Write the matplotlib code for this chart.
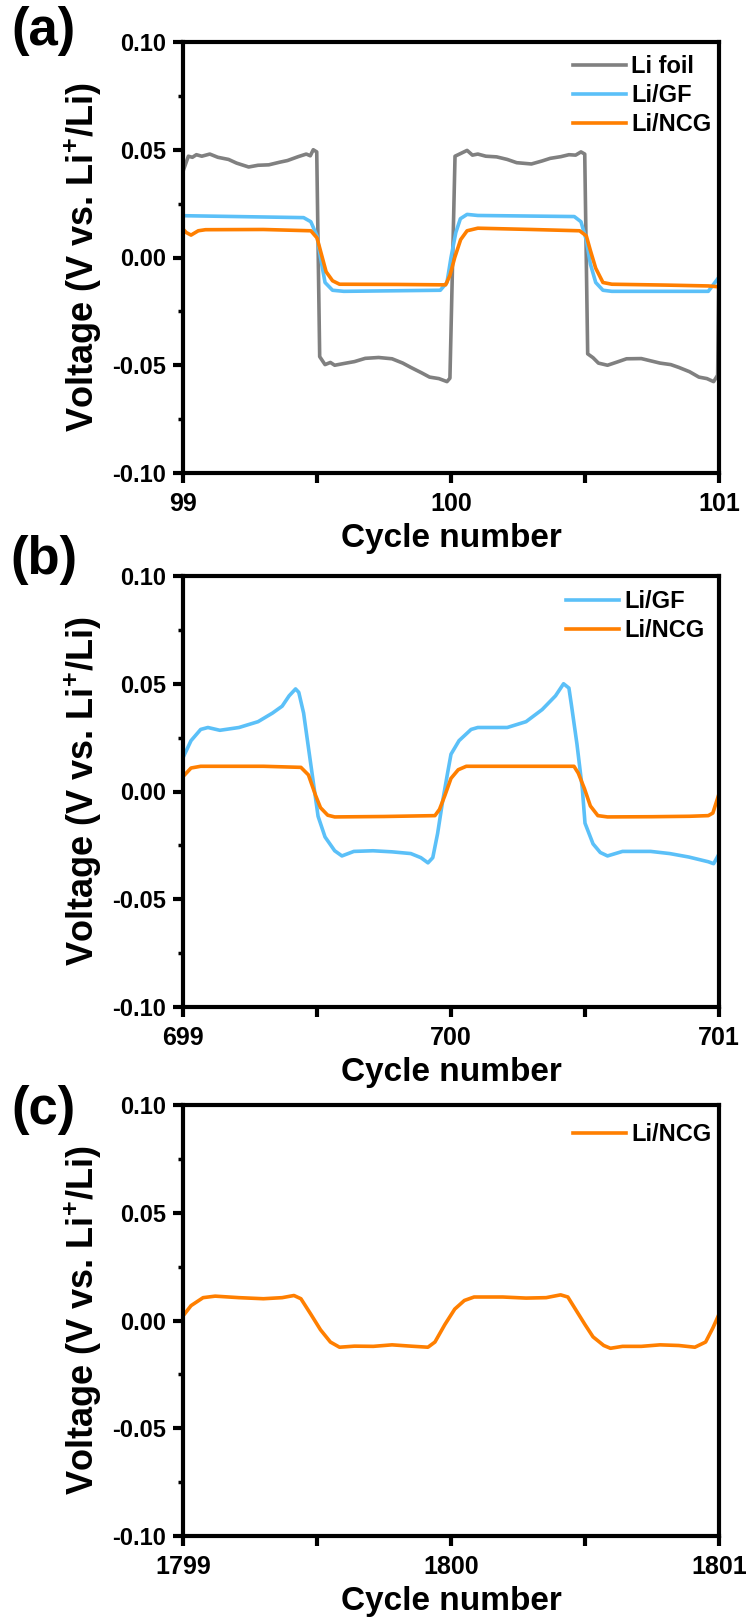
import numpy as np
import matplotlib
matplotlib.use("Agg")
import matplotlib.pyplot as plt
from matplotlib.ticker import MultipleLocator, FixedLocator

plt.rcParams['font.family'] = ['Liberation Sans', 'DejaVu Sans']
plt.rcParams['font.weight'] = 'bold'
plt.rcParams['mathtext.fontset'] = 'custom'
plt.rcParams['mathtext.bf'] = 'Liberation Sans:bold'
plt.rcParams['mathtext.rm'] = 'Liberation Sans:bold'
plt.rcParams['mathtext.default'] = 'bf'

# ---- panel (a): cycles 99-101 ----
a_foil_x = [99.0, 99.02, 99.035, 99.05, 99.07, 99.1, 99.13, 99.17, 99.2, 99.245, 99.28, 99.32,
            99.36, 99.39, 99.43, 99.46, 99.475, 99.486, 99.499,
            99.51, 99.53, 99.55, 99.566, 99.6, 99.64, 99.68, 99.73, 99.78, 99.82, 99.85,
            99.89, 99.92, 99.955, 99.985, 99.996,
            100.015, 100.04, 100.06, 100.08, 100.1, 100.13, 100.17, 100.21, 100.245, 100.3,
            100.34, 100.37, 100.41, 100.44, 100.465, 100.485, 100.499,
            100.51, 100.53, 100.55, 100.584, 100.62, 100.655, 100.71, 100.74, 100.78, 100.82,
            100.85, 100.89, 100.925, 100.955, 100.98, 100.995, 101.0]
a_foil_v = [0.040, 0.047, 0.0465, 0.0477, 0.047, 0.048, 0.0465, 0.0455, 0.0438, 0.042, 0.0428, 0.043,
            0.0442, 0.045, 0.0468, 0.048, 0.0472, 0.050, 0.049,
            -0.046, -0.0497, -0.0487, -0.050, -0.0492, -0.0483, -0.0468, -0.0464, -0.047, -0.049, -0.051,
            -0.0535, -0.0555, -0.0562, -0.0576, -0.056,
            0.047, 0.0485, 0.0497, 0.0475, 0.048, 0.047, 0.0467, 0.0455, 0.044, 0.0434,
            0.0448, 0.046, 0.0468, 0.0477, 0.0475, 0.049, 0.048,
            -0.0447, -0.0465, -0.049, -0.050, -0.0485, -0.047, -0.0469, -0.0478, -0.049, -0.0497,
            -0.051, -0.053, -0.0555, -0.0562, -0.0576, -0.0546, 0.003]

a_gf_x = [99.0, 99.2, 99.45, 99.477, 99.5, 99.513, 99.53, 99.558, 99.6, 99.96, 99.985,
          100.0, 100.018, 100.035, 100.06, 100.1, 100.46, 100.485, 100.505, 100.52, 100.54,
          100.567, 100.6, 100.96, 100.995]
a_gf_v = [0.0194, 0.019, 0.0185, 0.0166, 0.010, 0.0, -0.0116, -0.0152, -0.0157, -0.0152, -0.0116,
          0.0, 0.0116, 0.018, 0.020, 0.0195, 0.019, 0.0166, 0.008, -0.003, -0.0116,
          -0.0152, -0.0157, -0.0157, -0.0099]

a_ncg_x = [99.0, 99.012, 99.03, 99.057, 99.084, 99.3, 99.477, 99.5, 99.516, 99.534, 99.558,
           99.584, 99.8, 99.98, 99.996, 100.014, 100.036, 100.06, 100.1, 100.3, 100.48,
           100.505, 100.52, 100.54, 100.567, 100.6, 100.8, 100.96, 101.0]
a_ncg_v = [0.0132, 0.0116, 0.0104, 0.0124, 0.0129, 0.013, 0.0124, 0.0091, 0.0017, -0.0066, -0.0108,
           -0.0124, -0.0125, -0.0127, -0.0083, 0.0, 0.0083, 0.0124, 0.0136, 0.013, 0.0124,
           0.010, 0.0033, -0.005, -0.0116, -0.0124, -0.0128, -0.0132, -0.0136]

# ---- panel (b): cycles 699-701 ----
b_gf_x = [699.0, 699.03, 699.066, 699.093, 699.1375, 699.209, 699.28, 699.334, 699.37, 699.396,
          699.42, 699.432, 699.45, 699.468, 699.486, 699.504, 699.53, 699.566, 699.593, 699.6375,
          699.709, 699.78, 699.85, 699.8875, 699.914, 699.932, 699.95, 699.968, 699.986, 700.0,
          700.03, 700.075, 700.1, 700.21, 700.28, 700.34, 700.39, 700.42, 700.44, 700.45,
          700.47, 700.49, 700.5, 700.53, 700.557, 700.584, 700.64, 700.745, 700.816, 700.887,
          700.96, 700.98, 701.0]
b_gf_v = [0.0157, 0.0236, 0.0288, 0.0297, 0.0284, 0.0297, 0.0324, 0.0364, 0.0396, 0.0444,
          0.0476, 0.046, 0.0364, 0.0204, 0.0045, -0.0115, -0.0211, -0.0275, -0.0299, -0.0278,
          -0.0275, -0.028, -0.0288, -0.0307, -0.0331, -0.0307, -0.0195, -0.0051, 0.0077, 0.0173,
          0.0236, 0.0288, 0.0297, 0.0297, 0.0324, 0.038, 0.0444, 0.050, 0.048, 0.0396,
          0.022, 0.0013, -0.0147, -0.0243, -0.0283, -0.0299, -0.0278, -0.0278, -0.0288, -0.0304,
          -0.0326, -0.0335, -0.029]

b_ncg_x = [699.0, 699.03, 699.066, 699.3, 699.44, 699.468, 699.495, 699.513, 699.54, 699.566,
           699.75, 699.94, 699.957, 699.977, 700.0, 700.027, 700.057, 700.3, 700.459, 700.475,
           700.498, 700.52, 700.548, 700.584, 700.75, 700.89, 700.96, 700.977, 701.0]
b_ncg_v = [0.0069, 0.0109, 0.0117, 0.0117, 0.0112, 0.0077, -0.0019, -0.0075, -0.011, -0.0118,
           -0.0116, -0.0112, -0.0083, -0.0019, 0.0061, 0.0101, 0.0117, 0.0117, 0.0117, 0.0085,
           0.0013, -0.0067, -0.0112, -0.0118, -0.0117, -0.0115, -0.0112, -0.010, -0.0011]

# ---- panel (c): cycles 1799-1801 ----
c_ncg_x = [1799.0, 1799.03, 1799.075, 1799.12, 1799.209, 1799.3, 1799.37, 1799.414, 1799.44,
           1799.477, 1799.513, 1799.55, 1799.584, 1799.64, 1799.71, 1799.78, 1799.85, 1799.914,
           1799.94, 1799.977, 1800.014, 1800.05, 1800.086, 1800.193, 1800.28, 1800.355,
           1800.409, 1800.436, 1800.46, 1800.5, 1800.53, 1800.57, 1800.595, 1800.64, 1800.71,
           1800.78, 1800.85, 1800.91, 1800.95, 1800.977, 1801.0]
c_ncg_v = [0.0021, 0.0069, 0.0106, 0.0113, 0.0106, 0.0101, 0.0106, 0.0116, 0.0101,
           0.0029, -0.0043, -0.010, -0.0124, -0.0119, -0.012, -0.0113, -0.0119, -0.0124,
           -0.010, -0.0019, 0.0053, 0.0093, 0.0109, 0.0109, 0.0104, 0.0106,
           0.0119, 0.0109, 0.0061, -0.0019, -0.0076, -0.0116, -0.0129, -0.012, -0.012,
           -0.0113, -0.0116, -0.0124, -0.010, -0.0035, 0.0029]

c_gray = '#808080'
c_blue = '#5BC0F8'
c_orange = '#FF7F00'

fig = plt.figure(figsize=(7.49, 16.22), dpi=100)

left, width, height = 183/749, 536/749, 431/1622
bottoms = [1 - 473/1622, 1 - 1007/1622, 1 - 1536/1622]
starts = [99, 699, 1799]
panel_letters = ['(a)', '(b)', '(c)']
letter_y = [31, 560, 1110]
leg_anchor = [(0.706, 0.997), (0.693, 0.995), (0.706, 0.986)]

series = [
    [(a_foil_x, a_foil_v, c_gray, 'Li foil'),
     (a_gf_x, a_gf_v, c_blue, 'Li/GF'),
     (a_ncg_x, a_ncg_v, c_orange, 'Li/NCG')],
    [(b_gf_x, b_gf_v, c_blue, 'Li/GF'),
     (b_ncg_x, b_ncg_v, c_orange, 'Li/NCG')],
    [(c_ncg_x, c_ncg_v, c_orange, 'Li/NCG')],
]

for i in range(3):
    ax = fig.add_axes([left, bottoms[i], width, height])
    for xs, vs, col, lab in series[i]:
        ax.plot(xs, vs, color=col, lw=2.6, label=lab, solid_joinstyle='round')
    s = starts[i]
    ax.set_xlim(s, s + 2)
    ax.set_ylim(-0.10, 0.10)
    ax.xaxis.set_major_locator(FixedLocator([s, s + 1, s + 2]))
    ax.xaxis.set_minor_locator(FixedLocator([s + 0.5, s + 1.5]))
    ax.set_xticklabels([str(s), str(s + 1), str(s + 2)])
    ax.yaxis.set_major_locator(MultipleLocator(0.05))
    ax.yaxis.set_minor_locator(MultipleLocator(0.025))
    ax.yaxis.set_major_formatter(plt.FormatStrFormatter('%.2f'))
    for sp in ax.spines.values():
        sp.set_linewidth(3)
    ax.tick_params(axis='both', which='major', direction='out', length=7, width=3)
    ax.tick_params(axis='x', which='major', labelsize=18, pad=7)
    ax.tick_params(axis='y', which='major', labelsize=17, pad=5)
    ax.tick_params(axis='x', which='minor', direction='out', length=7, width=3)
    ax.tick_params(axis='y', which='minor', direction='out', length=3.5, width=2.5)
    for t in ax.get_xticklabels() + ax.get_yticklabels():
        t.set_fontweight('bold')
    ax.set_xlabel('Cycle number', fontsize=24, fontweight='bold')
    ax.xaxis.set_label_coords(0.5, -0.115)
    ax.set_ylabel('Voltage (V vs. Li$^{+}$/Li)', fontsize=26, fontweight='bold')
    ax.yaxis.set_label_coords(-0.148, 0.5)
    ax.legend(loc='upper left', bbox_to_anchor=leg_anchor[i], frameon=False,
              borderpad=0, handlelength=2.25, handletextpad=0.2, labelspacing=0.25,
              prop={'size': 17, 'weight': 'bold'})
    fig.text(44/749, 1 - letter_y[i]/1622, panel_letters[i], fontsize=38,
             fontweight='bold', ha='center', va='center')

fig.savefig('out.png', dpi=100)
